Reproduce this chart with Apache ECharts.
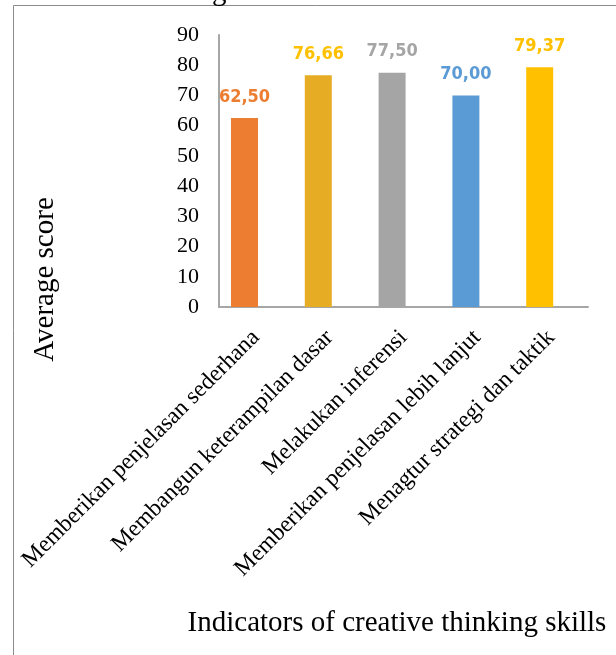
<!DOCTYPE html>
<html>
<head>
<meta charset="utf-8">
<script src="https://cdn.jsdelivr.net/npm/echarts@6/dist/echarts.min.js"></script>
<style>
  html, body { margin: 0; padding: 0; background: #fff; }
  #chart { width: 616px; height: 655px; }
</style>
</head>
<body>
<div id="chart"></div>
<script>
// 数据
const categories = [
  'Memberikan penjelasan sederhana',
  'Membangun keterampilan dasar',
  'Melakukan inferensi',
  'Memberikan penjelasan lebih lanjut',
  'Menagtur strategi dan taktik'
];
const scores = [62.50, 76.66, 77.50, 70.00, 79.37];
const barColors = ['#ED7D31', '#E6AC24', '#A5A5A5', '#5B9BD5', '#FFC000'];
const labelColors = ['#ED7D31', '#FFC000', '#A5A5A5', '#5B9BD5', '#FFC000'];
const yTicks = [0, 10, 20, 30, 40, 50, 60, 70, 80, 90];

const serif = '"Liberation Serif", "Times New Roman", serif';

const myChart = echarts.init(document.getElementById('chart'));

const option = {
  animation: false,
  grid: [
    // 坐标轴线和刻度标签
    { left: 219, right: 28, top: 35, bottom: 348 },
    // 柱子（稍微偏左）
    { left: 207.6, right: 39.4, top: 35, bottom: 348 }
  ],
  xAxis: [
    {
      type: 'category',
      gridIndex: 0,
      data: categories,
      axisLine: { show: true, lineStyle: { color: '#a6a6a6', width: 2 } },
      axisTick: { show: false },
      axisLabel: {
        interval: 0,
        rotate: 45,
        margin: 27,
        color: '#000',
        fontFamily: serif,
        fontSize: 23.5
      }
    },
    {
      type: 'category',
      gridIndex: 1,
      data: categories,
      show: false
    }
  ],
  yAxis: [
    {
      type: 'value',
      gridIndex: 0,
      min: yTicks[0],
      max: yTicks[yTicks.length - 1],
      interval: 10,
      axisLine: { show: true, lineStyle: { color: '#a6a6a6', width: 2 } },
      axisTick: { show: false },
      splitLine: { show: false },
      axisLabel: {
        margin: 20,
        color: '#000',
        fontFamily: serif,
        fontSize: 22
      }
    },
    {
      type: 'value',
      gridIndex: 1,
      min: yTicks[0],
      max: yTicks[yTicks.length - 1],
      show: false
    }
  ],
  series: [
    {
      type: 'bar',
      xAxisIndex: 1,
      yAxisIndex: 1,
      barWidth: 27,
      data: scores.map((v, i) => ({
        value: v,
        itemStyle: { color: barColors[i] },
        label: { color: labelColors[i] }
      })),
      label: {
        show: true,
        position: 'top',
        distance: 12,
        fontFamily: '"DejaVu Sans Condensed", "Liberation Sans Narrow", sans-serif',
        fontWeight: 'bold',
        fontSize: 18,
        formatter: p => p.value.toFixed(2).replace('.', ',')
      }
    }
  ],
  graphic: [
    // 外框
    {
      type: 'rect',
      shape: { x: 13.5, y: 5.5, width: 700, height: 700 },
      style: { fill: 'none', stroke: '#8c8c8c', lineWidth: 1 },
      silent: true
    },
    // 被裁掉的标题
    {
      type: 'text',
      x: 212,
      y: 7,
      style: { text: 'g', font: '29px ' + serif, fill: '#000', verticalAlign: 'bottom' }
    },
    // y 轴标题
    {
      type: 'text',
      x: 45,
      y: 279.5,
      rotation: Math.PI / 2,
      style: {
        text: 'Average score',
        font: '29px ' + serif,
        fill: '#000',
        align: 'center',
        verticalAlign: 'middle'
      }
    },
    // x 轴标题
    {
      type: 'text',
      x: 397,
      y: 623,
      style: {
        text: 'Indicators of creative thinking skills',
        font: '29px ' + serif,
        fill: '#000',
        align: 'center',
        verticalAlign: 'middle'
      }
    }
  ]
};

myChart.setOption(option);
</script>
</body>
</html>
